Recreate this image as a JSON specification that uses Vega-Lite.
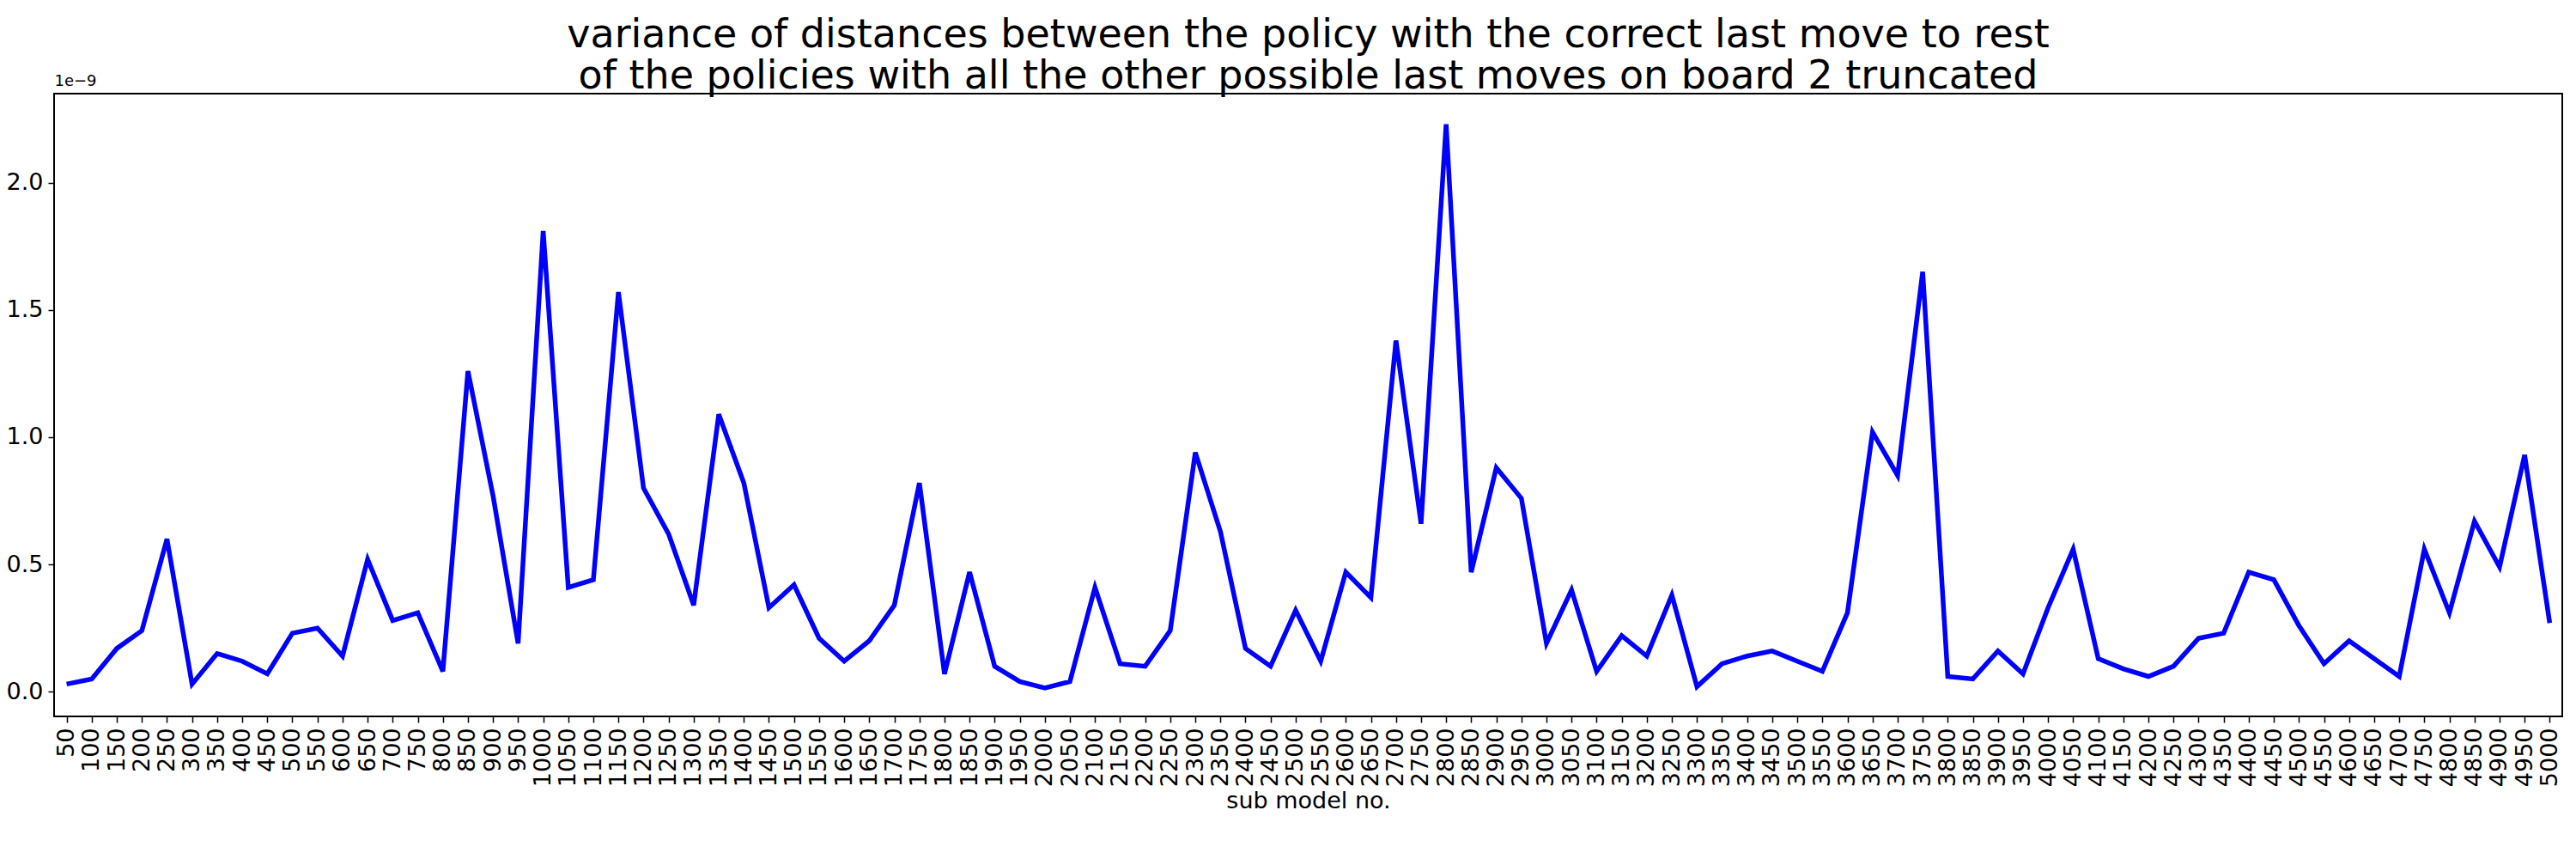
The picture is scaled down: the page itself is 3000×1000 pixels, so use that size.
{
  "$schema": "https://vega.github.io/schema/vega-lite/v6.json",
  "autosize": "none",
  "width": 2921,
  "height": 725,
  "padding": {"left": 63, "top": 109, "right": 16, "bottom": 166},
  "background": "white",
  "title": {
    "text": ["variance of distances between the policy with the correct last move to rest", " of the policies with all the other possible last moves on board 2 truncated"],
    "font": "DejaVu Sans",
    "fontSize": 46,
    "fontWeight": "normal",
    "lineHeight": 48,
    "anchor": "middle",
    "offset": -28
  },
  "data": {
    "values": [
      {"m": 50, "v": 0.03}, {"m": 100, "v": 0.05}, {"m": 150, "v": 0.17}, {"m": 200, "v": 0.24},
      {"m": 250, "v": 0.60}, {"m": 300, "v": 0.03}, {"m": 350, "v": 0.15}, {"m": 400, "v": 0.12},
      {"m": 450, "v": 0.07}, {"m": 500, "v": 0.23}, {"m": 550, "v": 0.25}, {"m": 600, "v": 0.14},
      {"m": 650, "v": 0.52}, {"m": 700, "v": 0.28}, {"m": 750, "v": 0.31}, {"m": 800, "v": 0.08},
      {"m": 850, "v": 1.26}, {"m": 900, "v": 0.77}, {"m": 950, "v": 0.19}, {"m": 1000, "v": 1.81},
      {"m": 1050, "v": 0.41}, {"m": 1100, "v": 0.44}, {"m": 1150, "v": 1.57}, {"m": 1200, "v": 0.80},
      {"m": 1250, "v": 0.62}, {"m": 1300, "v": 0.34}, {"m": 1350, "v": 1.09}, {"m": 1400, "v": 0.82},
      {"m": 1450, "v": 0.33}, {"m": 1500, "v": 0.42}, {"m": 1550, "v": 0.21}, {"m": 1600, "v": 0.12},
      {"m": 1650, "v": 0.20}, {"m": 1700, "v": 0.34}, {"m": 1750, "v": 0.82}, {"m": 1800, "v": 0.07},
      {"m": 1850, "v": 0.47}, {"m": 1900, "v": 0.10}, {"m": 1950, "v": 0.04}, {"m": 2000, "v": 0.015},
      {"m": 2050, "v": 0.04}, {"m": 2100, "v": 0.41}, {"m": 2150, "v": 0.11}, {"m": 2200, "v": 0.10},
      {"m": 2250, "v": 0.24}, {"m": 2300, "v": 0.94}, {"m": 2350, "v": 0.63}, {"m": 2400, "v": 0.17},
      {"m": 2450, "v": 0.10}, {"m": 2500, "v": 0.32}, {"m": 2550, "v": 0.12}, {"m": 2600, "v": 0.47},
      {"m": 2650, "v": 0.37}, {"m": 2700, "v": 1.38}, {"m": 2750, "v": 0.66}, {"m": 2800, "v": 2.23},
      {"m": 2850, "v": 0.47}, {"m": 2900, "v": 0.88}, {"m": 2950, "v": 0.76}, {"m": 3000, "v": 0.19},
      {"m": 3050, "v": 0.40}, {"m": 3100, "v": 0.08}, {"m": 3150, "v": 0.22}, {"m": 3200, "v": 0.14},
      {"m": 3250, "v": 0.38}, {"m": 3300, "v": 0.02}, {"m": 3350, "v": 0.11}, {"m": 3400, "v": 0.14},
      {"m": 3450, "v": 0.16}, {"m": 3500, "v": 0.12}, {"m": 3550, "v": 0.08}, {"m": 3600, "v": 0.31},
      {"m": 3650, "v": 1.02}, {"m": 3700, "v": 0.85}, {"m": 3750, "v": 1.65}, {"m": 3800, "v": 0.06},
      {"m": 3850, "v": 0.05}, {"m": 3900, "v": 0.16}, {"m": 3950, "v": 0.07}, {"m": 4000, "v": 0.33},
      {"m": 4050, "v": 0.56}, {"m": 4100, "v": 0.13}, {"m": 4150, "v": 0.09}, {"m": 4200, "v": 0.06},
      {"m": 4250, "v": 0.10}, {"m": 4300, "v": 0.21}, {"m": 4350, "v": 0.23}, {"m": 4400, "v": 0.47},
      {"m": 4450, "v": 0.44}, {"m": 4500, "v": 0.26}, {"m": 4550, "v": 0.11}, {"m": 4600, "v": 0.20},
      {"m": 4650, "v": 0.13}, {"m": 4700, "v": 0.06}, {"m": 4750, "v": 0.56}, {"m": 4800, "v": 0.31},
      {"m": 4850, "v": 0.67}, {"m": 4900, "v": 0.49}, {"m": 4950, "v": 0.93}, {"m": 5000, "v": 0.27}
    ]
  },
  "mark": {"type": "line", "color": "#0000ff", "strokeWidth": 5.5},
  "encoding": {
    "x": {
      "field": "m",
      "type": "ordinal",
      "sort": null,
      "scale": {"type": "point", "paddingOuter": 4.9},
      "axis": {
        "title": "sub model no.",
        "labelAngle": -90,
        "labelAlign": "right",
        "labelBaseline": "middle",
        "titlePadding": 4
      }
    },
    "y": {
      "field": "v",
      "type": "quantitative",
      "scale": {"domain": [-0.097, 2.35], "nice": false, "zero": false},
      "axis": {
        "values": [0, 0.5, 1, 1.5, 2],
        "format": ".1f",
        "title": "1e\u22129",
        "titleAngle": 0,
        "titleAlign": "left",
        "titleBaseline": "bottom",
        "titleX": 0,
        "titleY": -6,
        "titleFontSize": 18
      }
    }
  },
  "config": {
    "font": "DejaVu Sans",
    "view": {"stroke": "black", "strokeWidth": 2},
    "axis": {
      "grid": false,
      "domain": false,
      "tickColor": "black",
      "tickSize": 7,
      "tickWidth": 1.5,
      "labelColor": "black",
      "labelFont": "DejaVu Sans",
      "labelFontSize": 27,
      "labelPadding": 6,
      "titleFont": "DejaVu Sans",
      "titleFontSize": 27,
      "titleFontWeight": "normal",
      "titleColor": "black"
    }
  }
}
